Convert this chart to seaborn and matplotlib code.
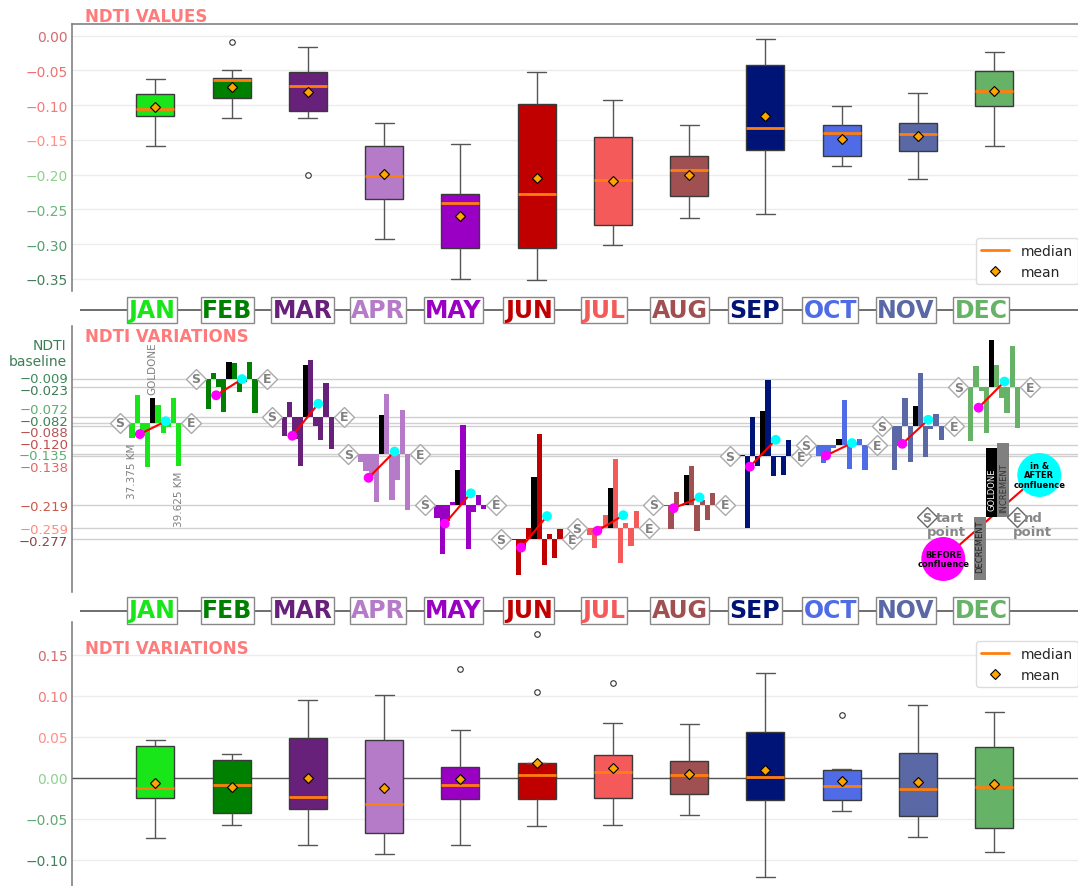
import numpy as np
import pandas as pd
import matplotlib
matplotlib.use("Agg")
import matplotlib.pyplot as plt
import matplotlib.transforms as mtransforms
from matplotlib.lines import Line2D
import seaborn as sns

# ---------------------------------------------------------------- data
months = ["JAN", "FEB", "MAR", "APR", "MAY", "JUN",
          "JUL", "AUG", "SEP", "OCT", "NOV", "DEC"]
month_colors = ["#19e619", "#008000", "#68217a", "#b57ac8", "#9a00c4", "#c00000",
                "#f55a5a", "#a05050", "#001478", "#4f6be6", "#5a69a6", "#66b266"]

# NDTI at the start point of each monthly profile (baseline of the variation bars)
baselines = [-0.082, -0.009, -0.072, -0.135, -0.219, -0.277,
             -0.259, -0.219, -0.138, -0.120, -0.088, -0.023]

# NDTI at the 11 sampling points between the start (37.375 km) and end (39.625 km)
jan_ndti = [-0.082, -0.108, -0.062, -0.085, -0.1586, -0.1176, -0.088, -0.105, -0.113, -0.072, -0.1445]
feb_ndti = [-0.009, -0.0594, -0.0494, -0.0634, -0.118, -0.0896, -0.0634, -0.0857, -0.0907, -0.0617, -0.1191]
mar_ndti = [-0.072, -0.1038, -0.0798, -0.1178, -0.1998, -0.1138, -0.019, -0.034, -0.0725, -0.0162, -0.0702]
apr_ndti = [-0.135, -0.147, -0.175, -0.212, -0.292, -0.227, -0.126, -0.2018, -0.2442, -0.1706, -0.2641]
may_ndti = [-0.219, -0.241, -0.3235, -0.3505, -0.3465, -0.2885, -0.1555, -0.2305, -0.2422, -0.2262, -0.2334]
jun_ndti = [-0.277, -0.279, -0.338, -0.351, -0.3326, -0.2278, -0.0522, -0.0952, -0.0862, -0.1169, -0.1002]
jul_ndti = [-0.259, -0.2696, -0.3016, -0.2976, -0.2747, -0.2078, -0.0924, -0.1504, -0.1409, -0.1709, -0.1419]
aug_ndti = [-0.219, -0.221, -0.2617, -0.2411, -0.2436, -0.1936, -0.1286, -0.1736, -0.1656, -0.1912, -0.1717]
sep_ndti = [-0.138, -0.136, -0.257, -0.1918, -0.2085, -0.1332, -0.0052, -0.0386, -0.0396, -0.0708, -0.0446]
oct_ndti = [-0.120, -0.138, -0.168, -0.183, -0.188, -0.1769, -0.1005, -0.1395, -0.134, -0.124, -0.1646]
nov_ndti = [-0.088, -0.1605, -0.1935, -0.1467, -0.2057, -0.1717, -0.0831, -0.1338, -0.1388, -0.1182, -0.1411]
dec_ndti = [-0.023, -0.1133, -0.0771, -0.0826, -0.159, -0.079, -0.0411, -0.0595, -0.1024, -0.0333, -0.1007]

# NDTI variation between consecutive sampling points (step 4 crosses the Goldone confluence)
jan_var = [-0.026, 0.046, -0.023, -0.0736, 0.041, 0.0296, -0.017, -0.008, 0.041, -0.0725]
feb_var = [-0.0504, 0.010, -0.014, -0.0546, 0.0284, 0.0262, -0.0223, -0.005, 0.029, -0.0574]
mar_var = [-0.0318, 0.024, -0.038, -0.082, 0.086, 0.0948, -0.015, -0.0385, 0.0563, -0.054]
apr_var = [-0.012, -0.028, -0.037, -0.080, 0.065, 0.101, -0.0758, -0.0424, 0.0736, -0.0935]
may_var = [-0.022, -0.0825, -0.027, 0.004, 0.058, 0.133, -0.075, -0.0117, 0.016, -0.0072]
jun_var = [-0.002, -0.059, -0.013, 0.0184, 0.1048, 0.1756, -0.043, 0.009, -0.0307, 0.0167]
jul_var = [-0.0106, -0.032, 0.004, 0.0229, 0.0669, 0.1154, -0.058, 0.0095, -0.030, 0.029]
aug_var = [-0.002, -0.0407, 0.0206, -0.0025, 0.050, 0.065, -0.045, 0.008, -0.0256, 0.0195]
sep_var = [0.002, -0.121, 0.0652, -0.0167, 0.0753, 0.128, -0.0334, -0.001, -0.0312, 0.0262]
oct_var = [-0.018, -0.030, -0.015, -0.005, 0.0111, 0.0764, -0.039, 0.0055, 0.010, -0.0406]
nov_var = [-0.0725, -0.033, 0.0468, -0.059, 0.034, 0.0886, -0.0507, -0.005, 0.0206, -0.0229]
dec_var = [-0.0903, 0.0362, -0.0055, -0.0764, 0.080, 0.0379, -0.0184, -0.0429, 0.0691, -0.0674]

goldone_step = 4
km_start, km_end = 37.375, 39.625

ndti_lists = [jan_ndti, feb_ndti, mar_ndti, apr_ndti, may_ndti, jun_ndti,
              jul_ndti, aug_ndti, sep_ndti, oct_ndti, nov_ndti, dec_ndti]
var_lists = [jan_var, feb_var, mar_var, apr_var, may_var, jun_var,
             jul_var, aug_var, sep_var, oct_var, nov_var, dec_var]

ndti_df = pd.DataFrame([(m, v) for m, vals in zip(months, ndti_lists) for v in vals],
                       columns=["month", "ndti"])
var_df = pd.DataFrame([(m, v) for m, vals in zip(months, var_lists) for v in vals],
                      columns=["month", "variation"])

# ---------------------------------------------------------------- style
sns.set_theme(style="whitegrid")
plt.rcParams.update({
    "font.family": ["DejaVu Sans"],
    "axes.edgecolor": "#777777",
    "axes.linewidth": 1.1,
    "grid.color": "#ececec",
    "grid.linewidth": 1.0,
})

W, H = 1078, 887
fig = plt.figure(figsize=(W / 100, H / 100), dpi=100)
fig.patch.set_facecolor("white")

AX_L = 72.3
XLIM = (-1.09, 12.1)
title_color = "#ff7b7b"
palette = dict(zip(months, month_colors))


def px_axes(left, top, right, bottom):
    return fig.add_axes([left / W, 1 - bottom / H, (right - left) / W, (bottom - top) / H])


ax_top = px_axes(AX_L, 25.0, W, 292.3)
ax_mid = px_axes(AX_L, 327.3, W, 593.3)
ax_bot = px_axes(AX_L, 623.3, W, H)


def draw_boxes(ax, df, col):
    sns.boxplot(data=df, x="month", y=col, hue="month", order=months, hue_order=months,
                palette=palette, saturation=1, width=0.5, linecolor="#3a3a3a",
                linewidth=1, legend=False, showmeans=True,
                meanprops=dict(marker="D", markerfacecolor="#ffa500",
                               markeredgecolor="black", markersize=5.5,
                               markeredgewidth=0.8),
                medianprops=dict(color="#ff7f0e", linewidth=2),
                whiskerprops=dict(color="#555555", linewidth=1),
                capprops=dict(color="#555555", linewidth=1),
                flierprops=dict(marker="o", markersize=4, markerfacecolor="white",
                                markeredgecolor="#333333", markeredgewidth=0.8),
                ax=ax)
    ax.set_xlim(*XLIM)
    ax.set_xticks([])
    ax.set_xlabel("")
    ax.set_ylabel("")
    ax.xaxis.grid(False)
    ax.tick_params(axis="y", length=0, pad=3, labelsize=10)


def fmt(v, nd):
    s = f"{v:.{nd}f}"
    if float(s) == 0:
        s = s.lstrip("-")
    return s.replace("-", "\u2212")


def legend_handles():
    return [Line2D([], [], color="#ff7f0e", lw=2, label="median"),
            Line2D([], [], ls="", marker="D", markerfacecolor="#ffa500",
                   markeredgecolor="black", markersize=5.5, markeredgewidth=0.8,
                   label="mean")]


# ---------------------------------------------------------------- top: NDTI values
draw_boxes(ax_top, ndti_df, "ndti")
ax_top.set_ylim(-0.3677, 0.0168)
top_ticks = [0.0, -0.05, -0.10, -0.15, -0.20, -0.25, -0.30, -0.35]
top_tick_colors = ["#d06b70", "#f07070", "#f47a7a", "#ff8f85",
                   "#8fd08f", "#66b47a", "#559e6e", "#40805a"]
ax_top.set_yticks(top_ticks, [fmt(t, 2) for t in top_ticks])
for lab, c in zip(ax_top.get_yticklabels(), top_tick_colors):
    lab.set_color(c)
for side in ["right", "bottom"]:
    ax_top.spines[side].set_visible(False)
ax_top.text(0.0126, 1 + 3.3 / 267.3, "NDTI VALUES", transform=ax_top.transAxes,
            fontsize=12, fontweight="bold", color=title_color, va="baseline", ha="left")
ax_top.legend(handles=legend_handles(), loc="lower right",
              bbox_to_anchor=(1 + 7 / 1005.7, 0.0), fontsize=10, frameon=True,
              framealpha=1, edgecolor="#dddddd")

# ---------------------------------------------------------------- bottom: NDTI variations
ax_bot.axhline(0, color="#555555", lw=1, zorder=1.5)
draw_boxes(ax_bot, var_df, "variation")
ax_bot.set_ylim(-0.1321, 0.1895)
bot_ticks = [0.15, 0.10, 0.05, 0.0, -0.05, -0.10]
bot_tick_colors = ["#d06b70", "#f47a7a", "#ff8f85", "#8fd08f", "#5fa874", "#40805a"]
ax_bot.set_yticks(bot_ticks, [fmt(t, 2) for t in bot_ticks])
for lab, c in zip(ax_bot.get_yticklabels(), bot_tick_colors):
    lab.set_color(c)
for side in ["right", "bottom", "top"]:
    ax_bot.spines[side].set_visible(False)
ax_bot.text(0.0126, 0.8836, "NDTI VARIATIONS", transform=ax_bot.transAxes,
            fontsize=12, fontweight="bold", color=title_color, va="baseline", ha="left")
ax_bot.legend(handles=legend_handles(), loc="upper right",
              bbox_to_anchor=(1 + 7 / 1005.7, 0.955), fontsize=10, frameon=True,
              framealpha=1, edgecolor="#dddddd")

# ---------------------------------------------------------------- middle: variation bars
ax_mid.set_xlim(*XLIM)
ax_mid.set_ylim(-0.3657, 0.0791)
ax_mid.grid(False)
for side in ["right", "bottom", "top"]:
    ax_mid.spines[side].set_visible(False)
ax_mid.set_xticks([])

base_levels = sorted(set(baselines), reverse=True)
for b in base_levels:
    ax_mid.axhline(b, color="#d0d0d0", lw=1, zorder=0)

n_steps = len(jan_var)
bar_w = 0.068
offsets = (np.arange(n_steps) - (n_steps - 1) / 2) * bar_w
marker_pad = 0.47

before_x, before_y, after_x, after_y = [], [], [], []
for i, (base, var, col) in enumerate(zip(baselines, var_lists, month_colors)):
    xs = i + offsets
    colors = [col] * n_steps
    colors[goldone_step] = "black"
    ax_mid.bar(xs, var, bottom=base, width=bar_w, color=colors, linewidth=0, zorder=2)

    bx = xs[:goldone_step].mean()
    by = base + np.mean(var[:goldone_step])
    axx = xs[goldone_step:].mean()
    ayy = base + np.mean(var[goldone_step:])
    before_x.append(bx); before_y.append(by)
    after_x.append(axx); after_y.append(ayy)
    ax_mid.plot([bx, axx], [by, ayy], color="red", lw=1.5, zorder=3)

    for sx, letter in [(i - marker_pad, "S"), (i + marker_pad, "E")]:
        ax_mid.plot(sx, base, ls="", marker="D", markersize=10, markerfacecolor="white",
                    markeredgecolor="#aaaaaa", markeredgewidth=1, zorder=4)
        ax_mid.text(sx, base, letter, ha="center", va="center", fontsize=9,
                    fontweight="bold", color="#808080", zorder=5)

sns.scatterplot(x=before_x, y=before_y, color="magenta", s=50, edgecolor="none",
                zorder=6, ax=ax_mid)
sns.scatterplot(x=after_x, y=after_y, color="cyan", s=50, edgecolor="none",
                zorder=6, ax=ax_mid)

# Goldone and distance labels on the first profile
x0 = 0 + offsets
ax_mid.annotate("GOLDONE", xy=(x0[goldone_step], baselines[0] + jan_var[goldone_step]),
                xytext=(0, 3), textcoords="offset points", rotation=90,
                ha="center", va="bottom", fontsize=7.5, color="#808080")
ax_mid.annotate(f"{km_start:.3f} KM", xy=(x0[0], baselines[0] + jan_var[0]),
                xytext=(0, -3), textcoords="offset points", rotation=90,
                ha="center", va="top", fontsize=7.5, color="#808080")
ax_mid.annotate(f"{km_end:.3f} KM", xy=(x0[-1], baselines[0] + jan_var[-1]),
                xytext=(0, -3), textcoords="offset points", rotation=90,
                ha="center", va="top", fontsize=7.5, color="#808080")

# baseline tick labels, spread apart where they crowd
def spread(vals, gap):
    pos = np.array(vals, dtype=float)
    for _ in range(1000):
        moved = False
        for k in range(len(pos) - 1):
            d = pos[k] - pos[k + 1]
            if d < gap - 1e-9:
                s = (gap - d) / 2
                pos[k] += s
                pos[k + 1] -= s
                moved = True
        if not moved:
            break
    return pos


base_label_colors = {-0.009: "#3d8a5a", -0.023: "#3d7a55", -0.072: "#5aaf6e",
                     -0.082: "#3d7f55", -0.088: "#b55555", -0.120: "#c44a4a",
                     -0.135: "#5aaf6e", -0.138: "#e06666", -0.219: "#c8584a",
                     -0.259: "#ff8a7a", -0.277: "#8b4545"}
label_pos = spread(base_levels, 0.0193)
ax_mid.set_yticks(label_pos, [fmt(b, 3) for b in base_levels])
ax_mid.tick_params(axis="y", length=0, pad=3, labelsize=9.5)
for lab, b in zip(ax_mid.get_yticklabels(), base_levels):
    lab.set_color(base_label_colors.get(round(b, 3), "#555555"))
blend = mtransforms.blended_transform_factory(ax_mid.transAxes, ax_mid.transData)
ax_mid.text(-0.0056, 0.034, "NDTI\nbaseline", transform=blend, ha="right", va="center",
            multialignment="right", fontsize=10, color="#3d7f55")
ax_mid.text(0.0126, 0.946, "NDTI VARIATIONS", transform=ax_mid.transAxes,
            fontsize=12, fontweight="bold", color=title_color, va="baseline", ha="left")

# ---------------------------------------------------------------- key for the bar chart
axk = fig.add_axes([900 / W, 1 - 590 / H, 178 / W, 150 / H])
axk.set_zorder(5)
axk.set_xlim(900, 1078)
axk.set_ylim(590, 440)
axk.axis("off")
key_base = 518.3
axk.plot([943.3, 1039.3], [560, 476], color="red", lw=1.5, zorder=1)
axk.bar(979.85, 62.4, bottom=key_base, width=11.7, color="#808080", linewidth=0, zorder=2)
axk.bar(991.5, -69.3, bottom=key_base, width=11.6, color="black", linewidth=0, zorder=2)
axk.bar(1003.3, -74.0, bottom=key_base, width=12.0, color="#808080", linewidth=0, zorder=2)
axk.text(979.85, 547, "DECREMENT", rotation=90, ha="center", va="center",
         fontsize=6, color="#222222", zorder=3)
axk.text(991.5, 490, "GOLDONE", rotation=90, ha="center", va="center",
         fontsize=6, color="white", zorder=3)
axk.text(1003.3, 488, "INCREMENT", rotation=90, ha="center", va="center",
         fontsize=6, color="#333333", zorder=3)
axk.scatter([943.3], [560], s=1000, color="magenta", edgecolor="none", zorder=4,
            clip_on=False)
axk.scatter([1039.3], [476], s=1000, color="cyan", edgecolor="none", zorder=4,
            clip_on=False)
axk.text(943.3, 560, "BEFORE\nconfluence", ha="center", va="center", fontsize=6,
         fontweight="bold", color="black", zorder=5, linespacing=1.1)
axk.text(1039.3, 476, "in &\nAFTER\nconfluence", ha="center", va="center", fontsize=6,
         fontweight="bold", color="black", zorder=5, linespacing=1.1)
for kx, letter, first, second in [(926.7, "S", "tart", 935.5), (1016.7, "E", "nd", 1024.0)]:
    axk.plot(kx, key_base, ls="", marker="D", markersize=10, markerfacecolor="white",
             markeredgecolor="#666666", markeredgewidth=1, zorder=4)
    axk.text(kx, key_base, letter, ha="center", va="center", fontsize=9,
             fontweight="bold", color="#808080", zorder=5)
    axk.text(second, key_base, first, ha="left", va="center", fontsize=9.5,
             fontweight="bold", color="#888888", zorder=5)
    axk.text(kx - (0 if letter == "S" else 3.4), 532.5, "point", ha="left", va="center",
             fontsize=9.5, fontweight="bold", color="#888888", zorder=5)

# ---------------------------------------------------------------- month label rows
def month_row(center_px):
    h = 40
    axr = fig.add_axes([80 / W, 1 - (center_px + h / 2) / H, (W - 80) / W, h / H])
    axr.set_xlim(-0.951, 12.285)
    axr.set_ylim(-1, 1)
    axr.axis("off")
    axr.axhline(0, color="#555555", lw=1.2, zorder=1)
    for i, (m, c) in enumerate(zip(months, month_colors)):
        axr.text(i, 0, m, ha="center", va="center", fontsize=17, fontweight="bold",
                 color=c, zorder=2,
                 bbox=dict(boxstyle="square,pad=0.06", fc="white", ec="#888888", lw=1))


month_row(311)
month_row(611.5)

fig.savefig("out.png", dpi=100)
